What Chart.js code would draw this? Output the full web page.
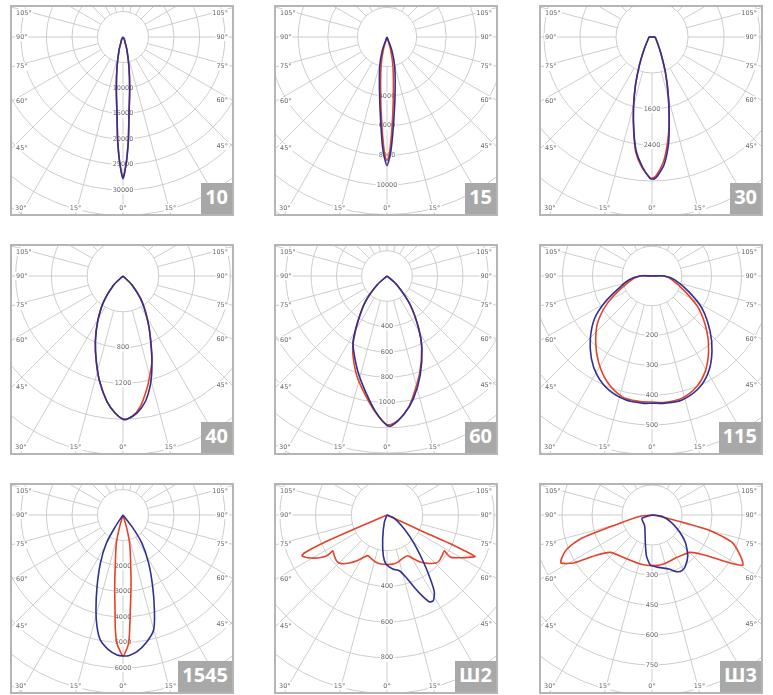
<!DOCTYPE html>
<html>
<head>
<meta charset="utf-8">
<script src="https://cdn.jsdelivr.net/npm/chart.js@4.4.0/dist/chart.umd.min.js"></script>
<style>
  body { margin: 0; background: #fff; }
  #sheet { position: relative; width: 773px; height: 695px; }
  .panel { position: absolute; width: 224px; height: 211px; border: 2px solid #b5b5b5; box-sizing: border-box; overflow: hidden; background: #fff; }
  .panel canvas { position: absolute; left: 0; top: 0; }
  .tag { position: absolute; right: 0; bottom: 0; height: 31px; line-height: 31px; padding: 0 4px; background: #a8a8a8; color: #fff; font: bold 20px "Open Sans", sans-serif; }
</style>
</head>
<body>
<div id="sheet"></div>
<script>
// diagram names, grid step (cd) and the values printed along the 0° axis
const names = ['10', '15', '30', '40', '60', '115', '1545', 'Ш2', 'Ш3'];
const steps = [5000, 2000, 800, 400, 200, 100, 1000, 200, 150];
const tickLabels = [
  [10000, 15000, 20000, 25000, 30000],
  [4000, 6000, 8000, 10000],
  [1600, 2400],
  [800, 1200],
  [400, 600, 800, 1000],
  [200, 300, 400, 500],
  [2000, 3000, 4000, 5000, 6000],
  [400, 600, 800],
  [300, 450, 600, 750]
];
const angleTicks = [0, 15, 30, 45, 60, 75, 90, 105];

// curves: angle from nadir (deg, left side negative) and intensity (cd)
const redAng10 = [-90, -30, -21.8, -16.7, -11.3, -7.4, -4.5, -3, -1.9, -1.35, -0.6, 0, 0.6, 1.35, 1.9, 3, 4.5, 7.4, 11.3, 16.7, 21.8, 30, 90];
const redVal10 = [0, 480, 1000, 2650, 5900, 10100, 15000, 20100, 23500, 24900, 26700, 27600, 26700, 24900, 23500, 20100, 15000, 10100, 5900, 2650, 1000, 480, 0];
const blueAng10 = [-90, -30, -21.8, -16.7, -11.3, -7.4, -4.5, -3, -1.9, -1.35, -0.6, 0, 0.6, 1.35, 1.9, 3, 4.5, 7.4, 11.3, 16.7, 21.8, 30, 90];
const blueVal10 = [0, 500, 1050, 2730, 6000, 10200, 15100, 20200, 23600, 25000, 26800, 27800, 26800, 25000, 23600, 20200, 15100, 10200, 6000, 2730, 1050, 500, 0];

const redAng15 = [-90, -16, -11.3, -6, -3.2, -1.7, -0.97, 0, 0.97, 1.7, 3.2, 6, 11.3, 16, 90];
const redVal15 = [0, 900, 2070, 4080, 6100, 7440, 8000, 8340, 8000, 7440, 6100, 4080, 2070, 900, 0];
const blueAng15 = [-90, -19.3, -13.7, -7, -3.8, -2.3, -1.3, 0, 1.3, 2.3, 4, 7.6, 14.5, 20, 90];
const blueVal15 = [0, 960, 2090, 4090, 6100, 7450, 8120, 8680, 8120, 7450, 6100, 4090, 2100, 960, 0];

const redAng30 = [-180, -90, -65.6, -33.3, -24.1, -19, -14.6, -10.9, -7.9, -4.5, -0.8, 0, 1.6, 5.1, 8.1, 11.1, 15.1, 20.1, 28.4, 67, 90, 180];
const redVal30 = [0, 60, 88, 310, 685, 1130, 1640, 2150, 2600, 2900, 3130, 3140, 3090, 2800, 2410, 1975, 1400, 895, 415, 95, 60, 0];
const blueAng30 = [-180, -90, -65.6, -33.3, -24.1, -19, -14.6, -10.9, -7.9, -4.05, -0.8, 0, 0.9, 2.3, 5.5, 8.7, 11.1, 15.1, 20.1, 28.4, 67, 90, 180];
const blueVal30 = [0, 60, 88, 307, 683, 1126, 1631, 2131, 2557, 2907, 3142, 3156, 3156, 3085, 2839, 2414, 1982, 1406, 898, 417, 95, 60, 0];

const redAng40 = [-90, -46, -37, -29, -22.8, -17.3, -12.45, -7.26, -3.2, 0, 3.7, 7.6, 12.1, 14.4, 18.7, 21.4, 27.6, 36.5, 45, 90];
const redVal40 = [0, 145, 362, 590, 800, 1005, 1210, 1415, 1535, 1598, 1573, 1470, 1282, 1179, 1009, 870, 617, 356, 142, 0];
const blueAng40 = [-90, -46, -37, -29, -22.8, -17.3, -12.45, -7.26, -3.2, 0, 1.6, 5.8, 10.1, 14.1, 17.4, 21.4, 27.6, 36.5, 45, 90];
const blueVal40 = [0, 145, 359, 583, 795, 1001, 1208, 1414, 1535, 1600, 1600, 1540, 1424, 1254, 1080, 867, 617, 356, 142, 0];

const redAng60 = [-90, -48, -40.2, -32.7, -27.4, -23.8, -17, -10.6, -4.9, 0, 4, 9, 12.3, 18.6, 25.8, 31.2, 38.8, 48, 90];
const redVal60 = [0, 106, 262, 420, 575, 670, 820, 950, 1080, 1175, 1150, 1060, 970, 810, 630, 480, 292, 106, 0];
const blueAng60 = [-90, -48, -40.2, -32.7, -27.4, -23.8, -17, -10.6, -4.9, 0, 1.9, 6.8, 12.3, 18.6, 25.8, 31.2, 38.8, 48, 90];
const blueVal60 = [0, 106, 265, 428, 583, 652, 789, 928, 1074, 1181, 1184, 1105, 988, 824, 634, 483, 294, 106, 0];

const redAng115 = [-180, -90, -76, -59.4, -49.4, -40.3, -31.9, -23.1, -14, -6.1, 0, 6, 13.8, 22.1, 29.1, 36.8, 44.7, 55.3, 64.8, 79, 90, 180];
const redVal115 = [0, 40, 80, 169, 240, 292, 340, 385, 417, 423, 423, 426, 422, 400, 367, 317, 262, 190, 123, 70, 40, 0];
const blueAng115 = [-180, -90, -80.3, -69.7, -61.2, -53.6, -44.7, -36.4, -29, -20.8, -12.1, -4.5, 0, 6, 13.6, 22.6, 30.6, 38.4, 46.3, 57.1, 66.9, 80, 90, 180];
const blueVal115 = [0, 42, 79, 119, 178, 239, 294, 343, 380, 409, 425, 428, 427, 429, 428, 408, 373, 324, 270, 200, 134, 79, 42, 0];

const redAng1545 = [-90, -16, -13.2, -9, -6.6, -4.8, -3.8, -2.7, -1.1, 0, 1.1, 2.5, 3.3, 4.4, 6.4, 9, 13.2, 16, 90];
const redVal1545 = [0, 476, 1141, 1919, 2829, 3738, 4520, 5037, 5360, 5530, 5360, 5036, 4517, 3736, 2828, 1919, 1141, 476, 0];
const blueAng1545 = [-90, -33.3, -30.5, -25.1, -19.9, -15.9, -13.1, -10.3, -6.06, -2.45, 0, 2.3, 5.85, 10.7, 14.9, 18.3, 22.5, 28, 33.8, 37.6, 90];
const blueVal1545 = [0, 547, 1289, 2093, 2990, 3871, 4496, 4981, 5321, 5495, 5530, 5520, 5387, 5055, 4667, 3922, 3041, 2146, 1338, 578, 0];

const redAngSh2 = [-90, -66.8, -66.3, -65.3, -64.4, -61.7, -58.2, -55.9, -56.2, -56.7, -52.3, -47.6, -43.4, -38.1, -32.9, -28.4, -25.4, -20.3, -13.1, -7, 0, 6.6, 12.7, 19.9, 27, 30.6, 34.7, 40.1, 45.6, 48.9, 55, 58.1, 57, 56.5, 60, 63.4, 64.8, 65.5, 65.3, 90];
const redValSh2 = [0, 199, 404, 510, 528, 505, 457, 413, 383, 364, 373, 382, 375, 342, 303, 268, 252, 259, 272, 277, 277, 277, 272, 258, 256, 282, 318, 354, 385, 389, 381, 379, 401, 430, 479, 527, 545, 415, 210, 0];
const blueAngSh2 = [-90, -20, -10.2, -5.2, -1.2, 6, 12.5, 17, 20.7, 23.7, 26, 28.4, 31.5, 33.8, 37.3, 43.3, 51, 65.6, 90];
const blueValSh2 = [0, 44, 137, 229, 275, 304, 320, 365, 434, 498, 541, 546, 508, 443, 345, 223, 125, 45, 0];

const redAngSh3 = [-90, -83.5, -74.5, -71.5, -68.2, -64.8, -62.2, -58.5, -54, -48.1, -33.8, -13.4, 0, 13.4, 30.6, 45.8, 53.5, 58.5, 61.2, 65.3, 71.1, 75, 76.8, 82, 90];
const redValSh3 = [0, 59, 199, 378, 458, 497, 514, 459, 340, 280, 255, 252, 253, 252, 246, 268, 342, 459, 519, 486, 423, 302, 146, 25, 0];
const blueAngSh3 = [-90, -71.6, -34.5, -13.7, -7.9, -1.9, 7.3, 17.2, 23.8, 28.3, 33, 41.3, 50.6, 59.6, 70, 82.4, 180];
const blueValSh3 = [0, 53, 65, 141, 205, 250, 264, 283, 310, 316, 306, 271, 216, 155, 98, 50, 0];

const redAng = [redAng10, redAng15, redAng30, redAng40, redAng60, redAng115, redAng1545, redAngSh2, redAngSh3];
const redVal = [redVal10, redVal15, redVal30, redVal40, redVal60, redVal115, redVal1545, redValSh2, redValSh3];
const blueAng = [blueAng10, blueAng15, blueAng30, blueAng40, blueAng60, blueAng115, blueAng1545, blueAngSh2, blueAngSh3];
const blueVal = [blueVal10, blueVal15, blueVal30, blueVal40, blueVal60, blueVal115, blueVal1545, blueValSh2, blueValSh3];

// layout
const panelLeft = [10, 274, 539];
const panelTop = [5, 244, 483];
const ringPx = [25.5, 29.6, 36, 35.8, 25.3, 29.8, 25.5, 35.7, 30];
const tension = [0.3, 0.3, 0.3, 0.3, 0.3, 0.3, 0.3, 0.2, 0.2];
const W = 220, H = 207, centerX = 111, centerY = 30;
const redColor = '#e4432a', blueColor = '#2e3191', gridColor = '#cdcdcd';

function polarPoints(angles, values) {
  return angles.map((a, i) => {
    const t = a * Math.PI / 180;
    return { x: values[i] * Math.sin(t), y: -values[i] * Math.cos(t) };
  });
}

const polarGrid = {
  id: 'polarGrid',
  beforeDatasetsDraw(chart, args, opts) {
    const { ctx, scales } = chart;
    const pt = (r, deg) => {
      const t = deg * Math.PI / 180;
      return [scales.x.getPixelForValue(r * Math.sin(t)), scales.y.getPixelForValue(-r * Math.cos(t))];
    };
    const step = opts.step;
    const [cx, cy] = pt(0, 0);
    const ring = pt(step, 90)[0] - cx;
    const Wc = chart.width, Hc = chart.height;
    const far = Math.hypot(Math.max(cx, Wc - cx), Math.max(cy, Hc - cy));
    const nRings = Math.ceil(far / ring) + 1;

    ctx.save();
    ctx.strokeStyle = gridColor;
    ctx.lineWidth = 1;
    for (let a = 0; a < 360; a += 15) {
      const p0 = pt(step, a), p1 = pt(nRings * step, a);
      ctx.beginPath();
      ctx.moveTo(p0[0], p0[1]);
      ctx.lineTo(p1[0], p1[1]);
      ctx.stroke();
    }
    for (let k = 1; k <= nRings; k++) {
      ctx.beginPath();
      ctx.arc(cx, cy, k * ring, 0, Math.PI * 2);
      ctx.stroke();
    }

    ctx.font = '6.5px "DejaVu Sans"';
    ctx.textAlign = 'center';
    ctx.textBaseline = 'middle';
    const label = (txt, x, y) => {
      const w = ctx.measureText(txt).width + 2;
      ctx.fillStyle = '#fff';
      ctx.fillRect(x - w / 2, y - 4, w, 8);
      ctx.fillStyle = '#6a6a6a';
      ctx.fillText(txt, x, y);
    };
    opts.ticks.forEach(v => {
      const p = pt(v, 0);
      label(String(v), p[0], p[1]);
    });
    angleTicks.forEach(g => {
      [-1, 1].forEach(side => {
        if (g === 0 && side < 0) return;
        const e = pt(nRings * step, side * g);
        const dx = e[0] - cx, dy = e[1] - cy;
        const tx = Math.abs(dx) < 1e-6 ? Infinity : (dx > 0 ? (Wc - cx) / dx : -cx / dx);
        const ty = dy > 1e-6 ? (Hc - cy) / dy : (dy < -1e-6 ? -cy / dy : Infinity);
        const txt = g + '°';
        const w = ctx.measureText(txt).width;
        if (tx < ty) {
          const y = Math.min(Math.max(cy + dy * tx, 6), Hc - 6);
          label(txt, dx > 0 ? Wc - 4 - w / 2 : 4 + w / 2, y);
        } else if (dy > 0) {
          label(txt, cx + dx * ty, Hc - 6);
        }
      });
    });
    ctx.restore();
  }
};

const sheet = document.getElementById('sheet');
names.forEach((name, i) => {
  const panel = document.createElement('div');
  panel.className = 'panel';
  panel.style.left = panelLeft[i % 3] + 'px';
  panel.style.top = panelTop[Math.floor(i / 3)] + 'px';
  const canvas = document.createElement('canvas');
  canvas.width = W;
  canvas.height = H;
  panel.appendChild(canvas);
  const tag = document.createElement('div');
  tag.className = 'tag';
  tag.textContent = name;
  panel.appendChild(tag);
  sheet.appendChild(panel);

  const u = steps[i] / ringPx[i];
  new Chart(canvas, {
    type: 'scatter',
    data: {
      datasets: [
        // first dataset is painted last, so blue sits on top of red
        { data: polarPoints(blueAng[i], blueVal[i]), borderColor: blueColor, showLine: true, pointRadius: 0, borderWidth: 1.6, tension: tension[i] },
        { data: polarPoints(redAng[i], redVal[i]), borderColor: redColor, showLine: true, pointRadius: 0, borderWidth: 1.6, tension: tension[i] }
      ]
    },
    options: {
      responsive: false,
      animation: false,
      events: [],
      layout: { padding: 0 },
      plugins: {
        legend: { display: false },
        tooltip: { enabled: false },
        polarGrid: { step: steps[i], ticks: tickLabels[i] }
      },
      scales: {
        x: { display: false, bounds: 'data', min: -centerX * u, max: (W - centerX) * u },
        y: { display: false, bounds: 'data', min: -(H - centerY) * u, max: centerY * u }
      }
    },
    plugins: [polarGrid]
  });
});
</script>
</body>
</html>
